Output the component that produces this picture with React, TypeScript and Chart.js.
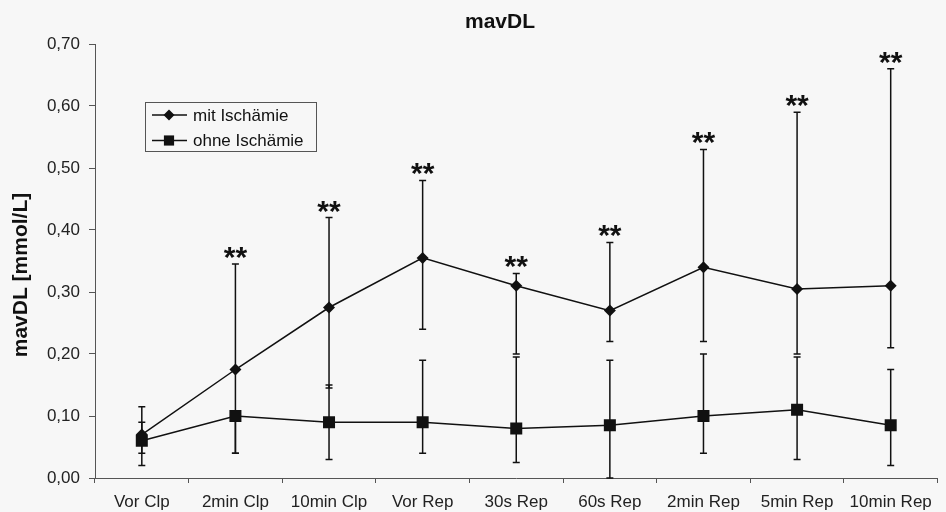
import React, { useEffect, useRef } from 'react';
import { Chart, registerables } from 'chart.js';

Chart.register(...registerables);

// Messzeitpunkte
const categories = ['Vor Clp', '2min Clp', '10min Clp', 'Vor Rep', '30s Rep', '60s Rep', '2min Rep', '5min Rep', '10min Rep'];

// mavDL mit Ischämie: Mittelwert, untere und obere Fehlerbalkengrenze
const mitValues = [0.07, 0.175, 0.275, 0.355, 0.31, 0.27, 0.34, 0.305, 0.31];
const mitLow = [0.02, 0.04, 0.145, 0.24, 0.2, 0.22, 0.22, 0.2, 0.21];
const mitHigh = [0.115, 0.345, 0.42, 0.48, 0.33, 0.38, 0.53, 0.59, 0.66];

// mavDL ohne Ischämie
const ohneValues = [0.06, 0.1, 0.09, 0.09, 0.08, 0.085, 0.1, 0.11, 0.085];
const ohneLow = [0.04, 0.04, 0.03, 0.04, 0.025, 0.0, 0.04, 0.03, 0.02];
const ohneHigh = [0.09, 0.1, 0.15, 0.19, 0.195, 0.19, 0.2, 0.195, 0.175];

// Signifikanzmarken über den Fehlerbalken (mit Ischämie)
const sigLabels = ['', '**', '**', '**', '**', '**', '**', '**', '**'];

// Achsenbeschriftung
const yTicks = [0, 0.1, 0.2, 0.3, 0.4, 0.5, 0.6, 0.7];

const FONT = '"Liberation Sans", Arial, sans-serif';
const INK = '#111111';
const AXIS = '#555555';
const BG = '#f7f7f7';

const errorBars = {
  id: 'errorBars',
  beforeDatasetsDraw(chart: any) {
    const { ctx, scales } = chart;
    const x = scales.x;
    const y = scales.y;
    const sets = [
      { low: mitLow, high: mitHigh },
      { low: ohneLow, high: ohneHigh },
    ];
    ctx.save();
    ctx.strokeStyle = INK;
    ctx.lineWidth = 1.5;
    for (const s of sets) {
      for (let i = 0; i < categories.length; i++) {
        const px = x.getPixelForValue(i);
        const y1 = y.getPixelForValue(s.low[i]);
        const y2 = y.getPixelForValue(s.high[i]);
        ctx.beginPath();
        ctx.moveTo(px, y1);
        ctx.lineTo(px, y2);
        ctx.moveTo(px - 3.5, y1);
        ctx.lineTo(px + 3.5, y1);
        ctx.moveTo(px - 3.5, y2);
        ctx.lineTo(px + 3.5, y2);
        ctx.stroke();
      }
    }
    ctx.restore();
  },
};

const decorations = {
  id: 'decorations',
  beforeDraw(chart: any) {
    const { ctx, width, height } = chart;
    ctx.save();
    ctx.fillStyle = BG;
    ctx.fillRect(0, 0, width, height);
    ctx.restore();
  },
  afterDraw(chart: any) {
    const { ctx, scales } = chart;
    const x = scales.x;
    const y = scales.y;
    ctx.save();

    // Titel
    ctx.fillStyle = INK;
    ctx.font = `bold 21px ${FONT}`;
    ctx.textAlign = 'center';
    ctx.textBaseline = 'middle';
    ctx.fillText('mavDL', 500, 22);

    // Y-Achsentitel
    ctx.save();
    ctx.translate(21, 275);
    ctx.rotate(-Math.PI / 2);
    ctx.font = `bold 21px ${FONT}`;
    ctx.fillText('mavDL [mmol/L]', 0, 0);
    ctx.restore();

    // Signifikanzsterne
    ctx.font = `bold 30px ${FONT}`;
    ctx.textAlign = 'center';
    ctx.textBaseline = 'alphabetic';
    for (let i = 0; i < categories.length; i++) {
      if (!sigLabels[i]) continue;
      const px = x.getPixelForValue(i);
      const py = y.getPixelForValue(mitHigh[i]);
      ctx.fillText(sigLabels[i], px, py + 3);
    }

    // Legende
    const bx = 145.5, by = 102.5, bw = 171, bh = 49;
    ctx.fillStyle = BG;
    ctx.fillRect(bx, by, bw, bh);
    ctx.strokeStyle = AXIS;
    ctx.lineWidth = 1;
    ctx.strokeRect(bx, by, bw, bh);
    const rows = [
      { label: 'mit Ischämie', style: 'rectRot', r: 5.5 },
      { label: 'ohne Ischämie', style: 'rect', r: 7.2 },
    ];
    rows.forEach((row, k) => {
      const cy = 115 + k * 25.5;
      ctx.strokeStyle = INK;
      ctx.lineWidth = 1.5;
      ctx.beginPath();
      ctx.moveTo(152, cy);
      ctx.lineTo(187, cy);
      ctx.stroke();
      ctx.fillStyle = INK;
      ctx.beginPath();
      if (row.style === 'rectRot') {
        ctx.moveTo(169, cy - row.r);
        ctx.lineTo(169 + row.r, cy);
        ctx.lineTo(169, cy + row.r);
        ctx.lineTo(169 - row.r, cy);
        ctx.closePath();
      } else {
        const h = row.r * Math.SQRT1_2;
        ctx.rect(169 - h, cy - h, 2 * h, 2 * h);
      }
      ctx.fill();
      ctx.font = `17px ${FONT}`;
      ctx.textAlign = 'left';
      ctx.textBaseline = 'middle';
      ctx.fillText(row.label, 193, cy + 1);
    });

    ctx.restore();
  },
};

export default function App() {
  const ref = useRef<HTMLCanvasElement | null>(null);

  useEffect(() => {
    if (!ref.current) return;
    const chart = new Chart(ref.current, {
      type: 'line',
      data: {
        labels: categories,
        datasets: [
          {
            label: 'mit Ischämie',
            data: mitValues,
            borderColor: INK,
            backgroundColor: INK,
            borderWidth: 1.5,
            pointStyle: 'rectRot',
            pointRadius: 6,
            pointBorderWidth: 0,
            tension: 0,
          },
          {
            label: 'ohne Ischämie',
            data: ohneValues,
            borderColor: INK,
            backgroundColor: INK,
            borderWidth: 1.5,
            pointStyle: 'rect',
            pointRadius: 8.5,
            pointBorderWidth: 0,
            tension: 0,
          },
        ],
      },
      options: {
        responsive: false,
        animation: false,
        devicePixelRatio: 1,
        layout: { padding: { top: 44, right: 1, bottom: 0, left: 0 } },
        plugins: {
          legend: { display: false },
          title: { display: false },
          tooltip: { enabled: false },
        },
        scales: {
          x: {
            type: 'category',
            offset: true,
            grid: {
              offset: true,
              drawOnChartArea: false,
              drawTicks: true,
              tickLength: 5,
              color: AXIS,
            },
            border: { display: true, color: AXIS, width: 1 },
            ticks: {
              color: '#222222',
              font: { family: FONT, size: 17 },
              padding: 9,
              maxRotation: 0,
              autoSkip: false,
            },
            afterFit(scale: any) {
              scale.height = 34;
            },
          },
          y: {
            min: 0,
            max: 0.7,
            afterBuildTicks(scale: any) {
              scale.ticks = yTicks.map((v) => ({ value: v }));
            },
            grid: {
              drawOnChartArea: false,
              drawTicks: true,
              tickLength: 6,
              color: AXIS,
            },
            border: { display: true, color: AXIS, width: 1 },
            ticks: {
              color: '#222222',
              font: { family: FONT, size: 17 },
              padding: 9,
              callback: (v: any) => Number(v).toFixed(2).replace('.', ','),
            },
            afterFit(scale: any) {
              scale.width = 95;
            },
          },
        },
      },
      plugins: [errorBars, decorations],
    });
    return () => chart.destroy();
  }, []);

  return (
    <div style={{ position: 'fixed', left: 0, top: 0, width: 946, height: 512, background: BG }}>
      <canvas ref={ref} width={946} height={512} style={{ display: 'block', width: 946, height: 512 }} />
    </div>
  );
}
